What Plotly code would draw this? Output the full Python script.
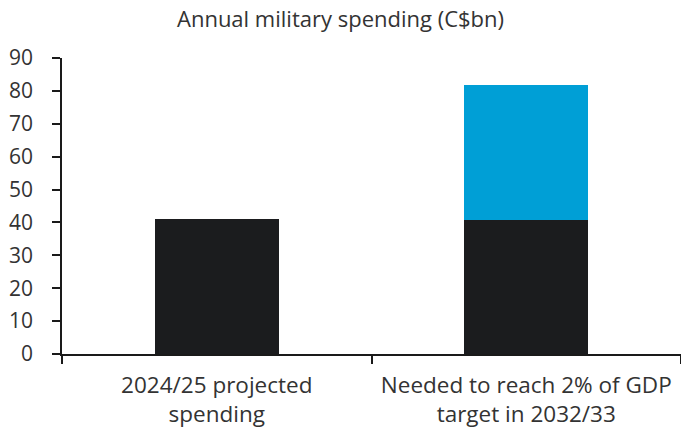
import plotly.graph_objects as go

categories = ["2024/25 projected<br>spending", "Needed to reach 2% of GDP<br>target in 2032/33"]
current_spending = [40.9, 40.6]
additional_needed = [0, 41.2]
y_ticks = [0, 10, 20, 30, 40, 50, 60, 70, 80, 90]

FONT = "Open Sans"
TEXT = "#333333"
W = 400

fig = go.Figure()
fig.add_trace(go.Bar(x=categories, y=current_spending, marker=dict(color="#1b1c1e", line=dict(width=0))))
fig.add_trace(go.Bar(x=categories, y=additional_needed, marker=dict(color="#009fd6", line=dict(width=0))))

fig.update_layout(
    width=681, height=428,
    barmode="stack", bargap=0.6,
    showlegend=False,
    plot_bgcolor="white", paper_bgcolor="white",
    margin=dict(l=62, r=0, t=58, b=74, autoexpand=False),
    font=dict(family=FONT, size=20, color=TEXT, weight=W),
    title=dict(text="Annual military spending (C$bn)", x=0.5, xanchor="center",
               y=1 - 19 / 428, yanchor="middle", font=dict(family=FONT, size=22, color=TEXT, weight=W)),
)
fig.update_xaxes(
    showline=True, linecolor="#1a1a1a", linewidth=1.5,
    ticks="outside", ticklen=8, tickcolor="#1a1a1a", tickwidth=1.5,
    tickson="boundaries", showgrid=False,
    tickangle=0, automargin=False,
    ticklabelstandoff=10,
    tickfont=dict(family=FONT, size=22.5, color=TEXT, weight=W),
)
fig.update_yaxes(
    range=[0, 90], tickvals=y_ticks,
    showline=True, linecolor="#1a1a1a", linewidth=1.5,
    ticks="outside", ticklen=8, tickcolor="#1a1a1a", tickwidth=1.5,
    showgrid=False, zeroline=False, automargin=False,
    ticklabelstandoff=15,
    tickfont=dict(family=FONT, size=21, color=TEXT, weight=W),
)
fig.write_html("out.html")
